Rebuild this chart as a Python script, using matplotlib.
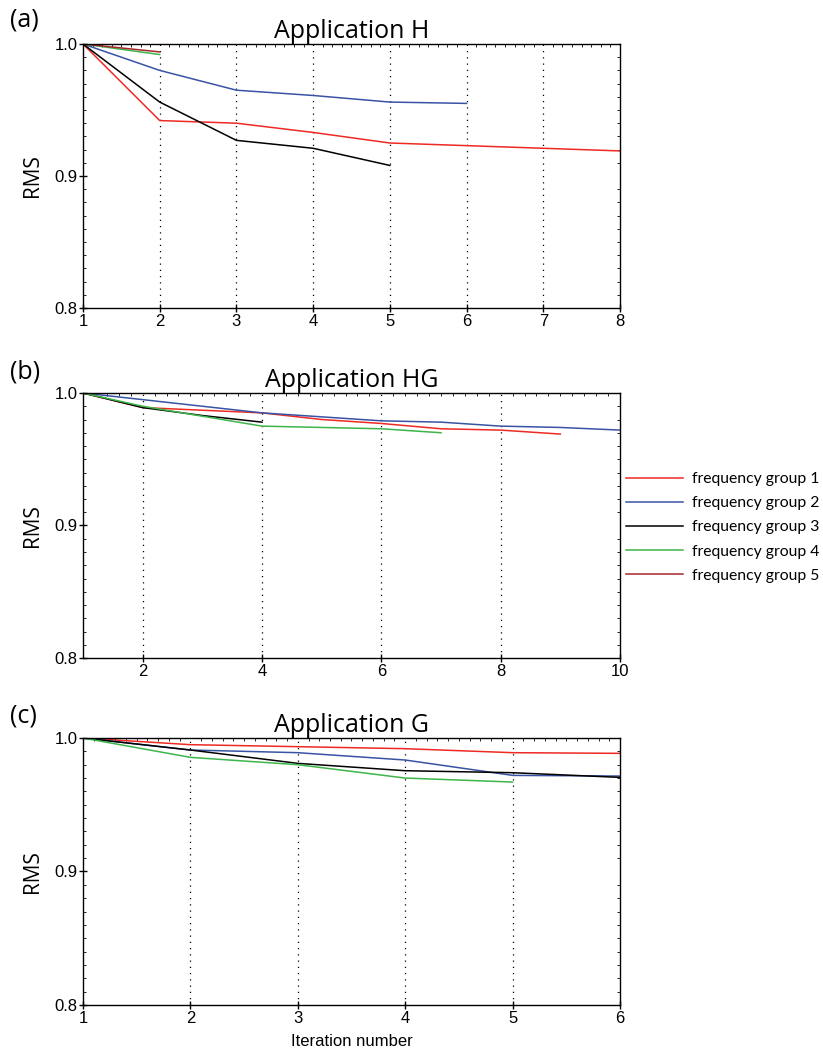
import matplotlib
matplotlib.use("Agg")
import matplotlib.pyplot as plt
from matplotlib.ticker import MultipleLocator

# panel (a) Application H
h_iter = [1, 2, 3, 4, 5, 6, 7, 8]
h_g1 = [1.0, 0.942, 0.940, 0.933, 0.925, 0.923, 0.921, 0.919]
h_g2 = [1.0, 0.980, 0.965, 0.961, 0.956, 0.955]
h_g3 = [1.0, 0.956, 0.927, 0.921, 0.908]
h_g4 = [1.0, 0.992]
h_g5 = [1.0, 0.994]

# panel (b) Application HG
hg_iter = [1, 2, 3, 4, 5, 6, 7, 8, 9, 10]
hg_g1 = [1.0, 0.989, 0.987, 0.985, 0.980, 0.977, 0.973, 0.972, 0.969]
hg_g2 = [1.0, 0.995, 0.990, 0.985, 0.982, 0.979, 0.978, 0.975, 0.974, 0.972]
hg_g3 = [1.0, 0.989, 0.983, 0.978]
hg_g4 = [1.0, 0.990, 0.9825, 0.975, 0.974, 0.973, 0.970]

# panel (c) Application G
g_iter = [1, 2, 3, 4, 5, 6]
g_g1 = [1.0, 0.995, 0.9935, 0.992, 0.989, 0.9885]
g_g2 = [1.0, 0.991, 0.989, 0.9835, 0.972, 0.9715]
g_g3 = [1.0, 0.991, 0.981, 0.9755, 0.974, 0.9705]
g_g4 = [1.0, 0.9855, 0.980, 0.970, 0.967]

colors = ['#ee2a24', '#3953a4', '#000000', '#3db54a', '#a6262b']
labels = ['frequency group 1', 'frequency group 2', 'frequency group 3',
          'frequency group 4', 'frequency group 5']

plt.rcParams['font.family'] = ['Liberation Sans', 'DejaVu Sans']
title_font = ['Open Sans', 'DejaVu Sans']

fig = plt.figure(figsize=(8.23, 10.49), dpi=100)

left = 83 / 823
width = 537 / 823
boxes = [
    (1 - 308 / 1049, 264 / 1049),
    (1 - 658 / 1049, 265 / 1049),
    (1 - 1005 / 1049, 267 / 1049),
]
titles = ['Application H', 'Application HG', 'Application G']
tags = ['(a)', '(b)', '(c)']
tag_y = [20, 372, 716]

panels = [
    (h_iter, [h_g1, h_g2, h_g3, h_g4, h_g5], 8, 1),
    (hg_iter, [hg_g1, hg_g2, hg_g3, hg_g4], 10, 2),
    (g_iter, [g_g1, g_g2, g_g3, g_g4], 6, 1),
]

axes = []
for i, (bottom, height) in enumerate(boxes):
    ax = fig.add_axes([left, bottom, width, height])
    xs, series, xmax, step = panels[i]
    for k, ys in enumerate(series):
        ax.plot(xs[:len(ys)], ys, color=colors[k], lw=1.1, label=labels[k])
    ax.set_xlim(1, xmax)
    ax.set_ylim(0.8, 1.0)
    ax.xaxis.set_major_locator(MultipleLocator(step))
    ax.yaxis.set_major_locator(MultipleLocator(0.1))
    ax.xaxis.set_minor_locator(MultipleLocator(0.125 if xmax == 8 else (0.2 if xmax == 10 else 0.1)))
    ax.yaxis.set_minor_locator(MultipleLocator(0.01))
    ax.yaxis.set_major_formatter(plt.FormatStrFormatter('%.1f'))
    # dotted vertical lines at the interior major ticks
    for g in range(step, xmax, step):
        if g > 1:
            ax.axvline(g, color='black', lw=0.9, ls=(0, (1, 4)), zorder=0)
    ax.tick_params(which='major', direction='inout', length=6, width=1,
                   labelsize=12, pad=1)
    ax.tick_params(which='minor', direction='in', length=2, width=0.6,
                   top=True, right=True, bottom=False, left=True)
    for sp in ax.spines.values():
        sp.set_linewidth(1.0)
    ax.set_ylabel('RMS', fontsize=15, family=title_font, labelpad=8)
    ax.set_title(titles[i], fontsize=18, family=title_font, pad=4)
    fig.text(10 / 823, 1 - tag_y[i] / 1049, tags[i], fontsize=18,
             family=title_font, va='center')
    axes.append(ax)

axes[2].set_xlabel('Iteration number', fontsize=12, labelpad=6)

handles = [plt.Line2D([], [], color=c, lw=1.1) for c in colors]
fig.legend(handles, labels, loc='upper left',
           bbox_to_anchor=(626 / 823, 1 - 472 / 1049), frameon=False,
           borderpad=0, borderaxespad=0,
           handlelength=3.6, handletextpad=0.6, labelspacing=0.65,
           prop={'family': ['Lato', 'DejaVu Sans'], 'size': 11.3})

fig.savefig('out.png', dpi=100)
